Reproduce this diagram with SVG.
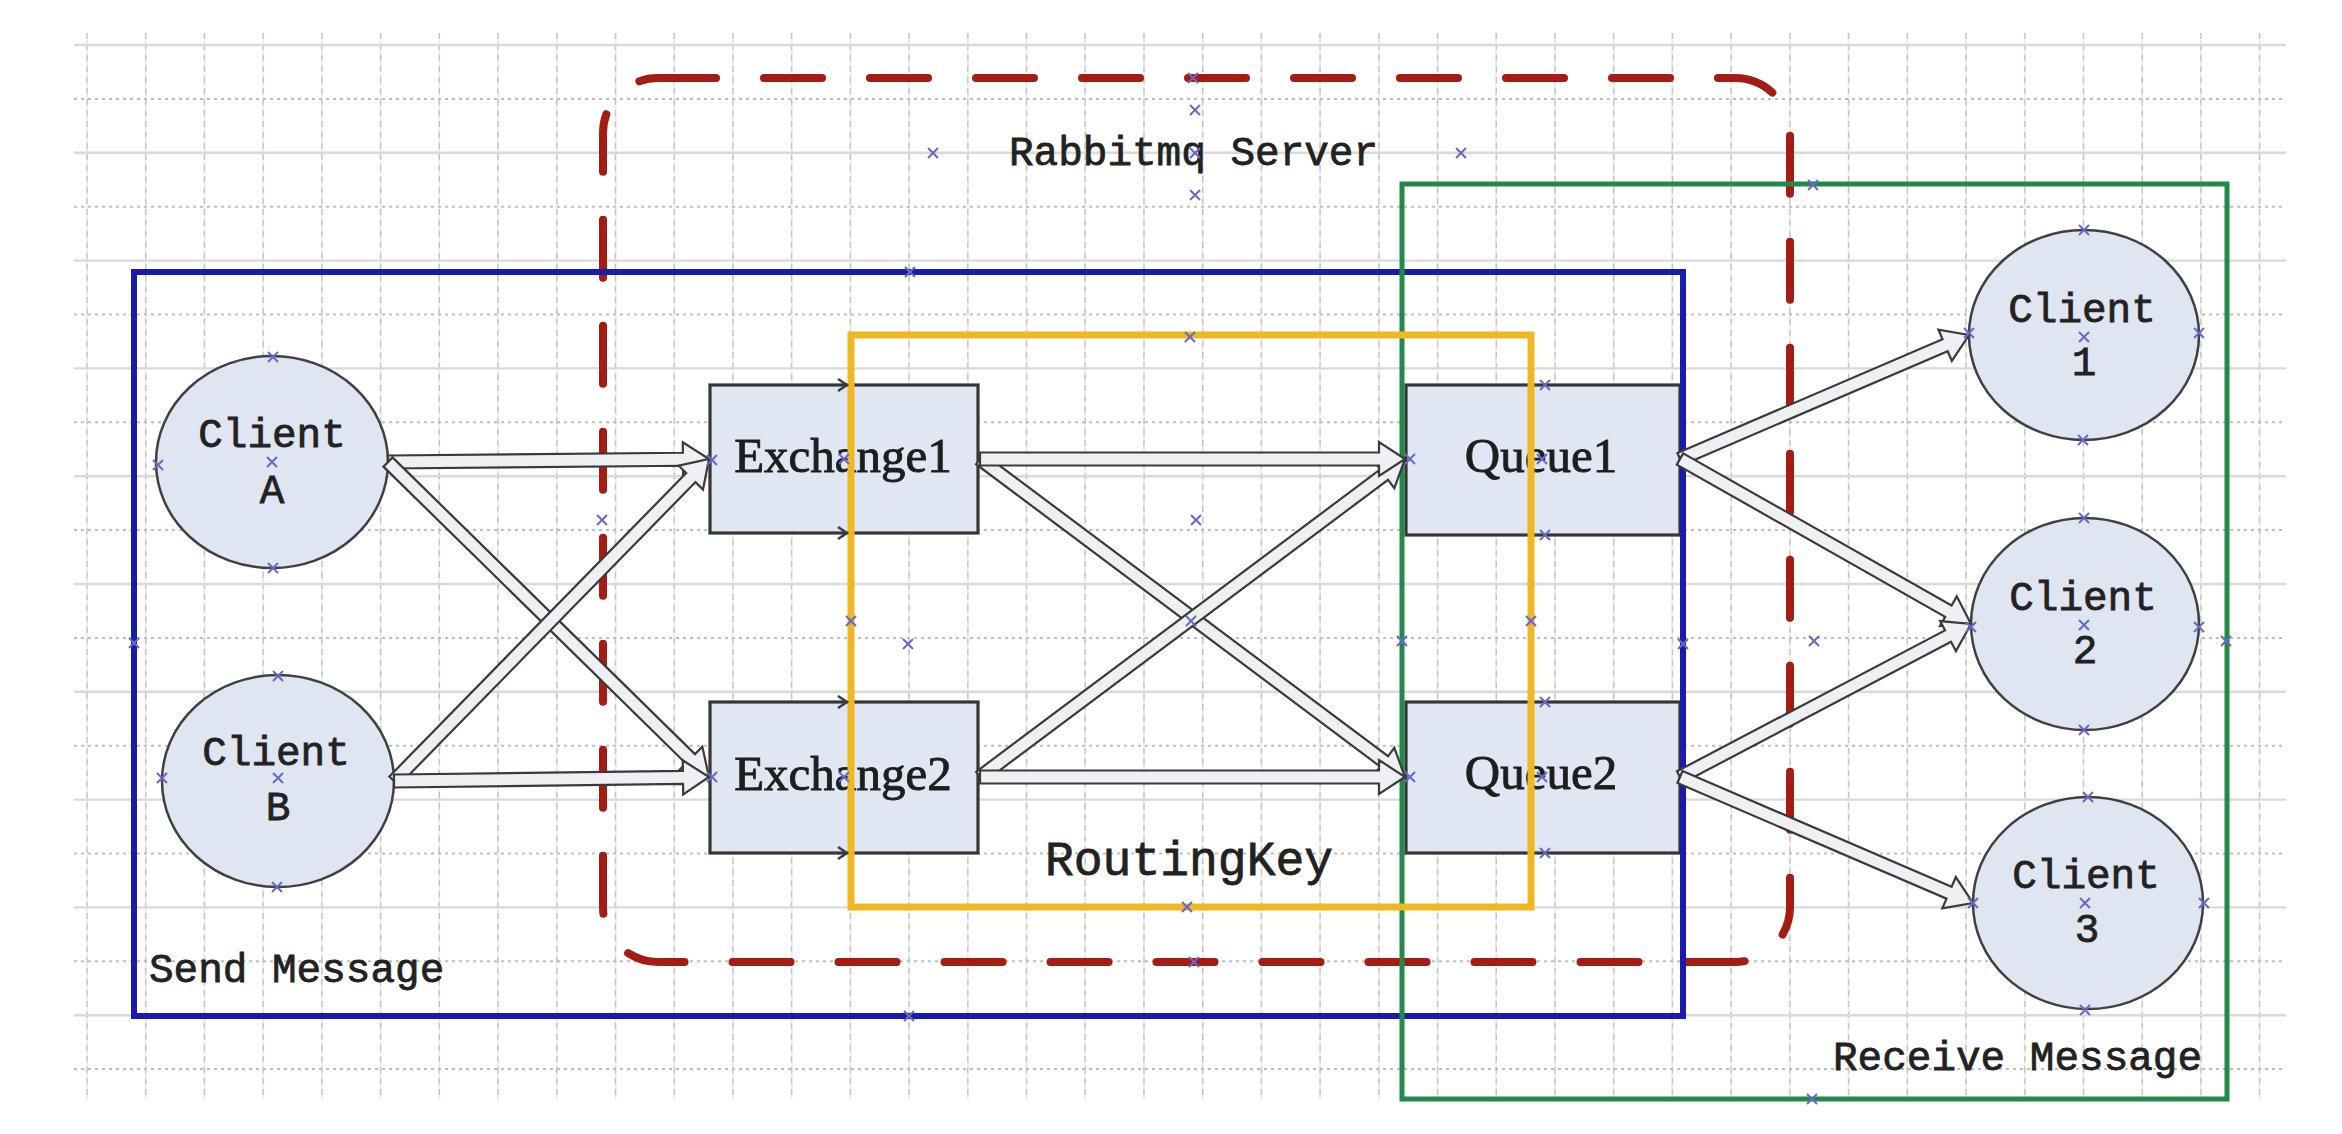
<svg xmlns="http://www.w3.org/2000/svg" width="2342" height="1134" viewBox="0 0 2342 1134">
<defs>
<style>
.gv{stroke:#c6c6c6;stroke-width:1.4;stroke-dasharray:6 5;fill:none}
.gvs{stroke:#ededed;stroke-width:2;fill:none}
.gh{stroke:#dadada;stroke-width:2.4;fill:none}
.ghd{stroke:#bfbfbf;stroke-width:2;stroke-dasharray:3 4;fill:none}
.box{fill:#e0e6f2;stroke:#363636;stroke-width:3.2}
.ell{fill:#dfe5f1;stroke:#404040;stroke-width:2.5}
.mono{font-family:"Liberation Mono","DejaVu Sans Mono",monospace;font-size:41px;fill:#222;stroke:#222;stroke-width:0.8}
.big{font-size:48px}
.mid{text-anchor:middle}
.serif{font-family:"Liberation Serif","DejaVu Serif",serif;font-size:49px;fill:#1e1e1e;stroke:#1e1e1e;stroke-width:0.9;text-anchor:middle}
.arrow{fill:#eef0f4;stroke:#3a3a3a;stroke-width:2.2;stroke-linejoin:miter}
.pt{stroke:#6868cc;stroke-width:2;fill:none}
.chev{stroke:#3a3a4a;stroke-width:2.5;fill:none}
.ctr{fill:none}
.red{stroke:#a51c12;stroke-width:8;stroke-dasharray:58 48;stroke-linecap:round}
.blue{stroke:#1a1aae;stroke-width:6}
.green{stroke:#218a48;stroke-width:5}
.yellow{stroke:#f0b820;stroke-width:7}
</style>
<path id="x" class="pt" d="M-5,-5L5,5M5,-5L-5,5"/>
<path id="chev" class="chev" d="M-9,-6L0,0L-9,6"/>
</defs>
<rect x="0" y="0" width="2342" height="1134" fill="#ffffff"/>
<g id="grid">
<path class="gvs" d="M87,33V1100M145.7,33V1100M204.4,33V1100M263.2,33V1100M321.9,33V1100M380.6,33V1100M439.3,33V1100M498,33V1100M556.8,33V1100M615.5,33V1100M674.2,33V1100M732.9,33V1100M791.6,33V1100M850.4,33V1100M909.1,33V1100M967.8,33V1100M1026.5,33V1100M1085.2,33V1100M1144,33V1100M1202.7,33V1100M1261.4,33V1100M1320.1,33V1100M1378.8,33V1100M1437.6,33V1100M1496.3,33V1100M1555,33V1100M1613.7,33V1100M1672.4,33V1100M1731.2,33V1100M1789.9,33V1100M1848.6,33V1100M1907.3,33V1100M1966,33V1100M2024.8,33V1100M2083.5,33V1100M2142.2,33V1100M2200.9,33V1100M2259.6,33V1100"/>
<path class="gv" d="M87,33V1100M145.7,33V1100M204.4,33V1100M263.2,33V1100M321.9,33V1100M380.6,33V1100M439.3,33V1100M498,33V1100M556.8,33V1100M615.5,33V1100M674.2,33V1100M732.9,33V1100M791.6,33V1100M850.4,33V1100M909.1,33V1100M967.8,33V1100M1026.5,33V1100M1085.2,33V1100M1144,33V1100M1202.7,33V1100M1261.4,33V1100M1320.1,33V1100M1378.8,33V1100M1437.6,33V1100M1496.3,33V1100M1555,33V1100M1613.7,33V1100M1672.4,33V1100M1731.2,33V1100M1789.9,33V1100M1848.6,33V1100M1907.3,33V1100M1966,33V1100M2024.8,33V1100M2083.5,33V1100M2142.2,33V1100M2200.9,33V1100M2259.6,33V1100"/>
<path class="gh" d="M74,45H2286M74,152.8H2286M74,260.6H2286M74,368.4H2286M74,476.2H2286M74,584H2286M74,691.8H2286M74,799.6H2286M74,907.4H2286M74,1015.2H2286"/>
<path class="ghd" d="M74,98.9H2286M74,206.7H2286M74,314.5H2286M74,422.3H2286M74,530.1H2286M74,637.9H2286M74,745.7H2286M74,853.5H2286M74,961.3H2286M74,1069.1H2286"/>
</g>
<g id="nodes">
<g id="client-a"><ellipse class="ell" cx="272" cy="462" rx="116" ry="106"/><text class="mono mid" x="272" y="447">Client</text><text class="mono mid" x="272" y="503">A</text></g>
<g id="client-b"><ellipse class="ell" cx="278" cy="781" rx="116" ry="106"/><text class="mono mid" x="276" y="765">Client</text><text class="mono mid" x="278" y="820">B</text></g>
<g id="exchange1"><rect class="box" x="710" y="385" width="268" height="148"/><text class="serif" x="843" y="472">Exchange1</text></g>
<g id="exchange2"><rect class="box" x="710" y="702" width="268" height="151"/><text class="serif" x="843" y="790">Exchange2</text></g>
<g id="queue1"><rect class="box" x="1406" y="385" width="274" height="150"/><text class="serif" x="1541" y="472">Queue1</text></g>
<g id="queue2"><rect class="box" x="1406" y="702" width="274" height="151"/><text class="serif" x="1541" y="789">Queue2</text></g>
<g id="client-1"><ellipse class="ell" cx="2084" cy="335" rx="115" ry="105"/><text class="mono mid" x="2082" y="322">Client</text><text class="mono mid" x="2084" y="375">1</text></g>
<g id="client-2"><ellipse class="ell" cx="2085" cy="624" rx="114" ry="106"/><text class="mono mid" x="2083" y="610">Client</text><text class="mono mid" x="2085" y="663">2</text></g>
<g id="client-3"><ellipse class="ell" cx="2088" cy="903" rx="115" ry="106"/><text class="mono mid" x="2086" y="888">Client</text><text class="mono mid" x="2087" y="942">3</text></g>
</g>
<g id="containers">
<g id="rabbitmq-server"><rect class="ctr red" x="603" y="78" width="1187" height="884" rx="55" ry="55"/><text class="mono" x="1009" y="165">Rabbitmq Server</text></g>
<g id="send-message"><rect class="ctr blue" x="134" y="272" width="1549" height="744"/><text class="mono" x="149" y="982">Send Message</text></g>
<g id="receive-message"><rect class="ctr green" x="1402" y="184" width="825" height="915"/><text class="mono" x="1833" y="1070">Receive Message</text></g>
<g id="routingkey"><rect class="ctr yellow" x="851" y="335" width="680" height="572"/><text class="mono big" x="1045" y="875">RoutingKey</text></g>
</g>
<g id="connectors">
<path class="arrow" transform="translate(388,462) rotate(-0.535)" d="M0,-6.5H295V-17L321,0L295,17V6.5H0Z"/>
<path class="arrow" transform="translate(388,462) rotate(44.459)" d="M0,-6.5H423.7V-17L449.7,0L423.7,17V6.5H0Z"/>
<path class="arrow" transform="translate(394,781) rotate(-45.63)" d="M0,-6.5H424.5V-17L450.5,0L424.5,17V6.5H0Z"/>
<path class="arrow" transform="translate(394,781) rotate(-0.727)" d="M0,-6.5H289V-17L315,0L289,17V6.5H0Z"/>
<path class="arrow" transform="translate(980,459) rotate(36.81)" d="M0,-6.5H504.8V-17L530.8,0L504.8,17V6.5H0Z"/>
<path class="arrow" transform="translate(980,777) rotate(-36.81)" d="M0,-6.5H504.8V-17L530.8,0L504.8,17V6.5H0Z"/>
<path class="arrow" transform="translate(980,459)" d="M0,-6.5H399V-17L425,0L399,17V6.5H0Z"/>
<path class="arrow" transform="translate(980,777)" d="M0,-6.5H399V-17L425,0L399,17V6.5H0Z"/>
<path class="arrow" transform="translate(1680,459) rotate(-23.22)" d="M0,-6.5H288.5V-17L314.5,0L288.5,17V6.5H0Z"/>
<path class="arrow" transform="translate(1680,459) rotate(29.55)" d="M0,-6.5H308.5V-17L334.5,0L308.5,17V6.5H0Z"/>
<path class="arrow" transform="translate(1680,777) rotate(-27.73)" d="M0,-6.5H302.8V-17L328.8,0L302.8,17V6.5H0Z"/>
<path class="arrow" transform="translate(1680,777) rotate(23.27)" d="M0,-6.5H292.9V-17L318.9,0L292.9,17V6.5H0Z"/>
</g>
<g id="markers">
<use href="#chev" x="847" y="385"/><use href="#chev" x="847" y="533"/><use href="#chev" x="847" y="702"/><use href="#chev" x="847" y="853"/>
<use href="#x" x="1193" y="78"/><use href="#x" x="1195" y="110"/><use href="#x" x="1195" y="153"/><use href="#x" x="1195" y="195"/><use href="#x" x="933" y="153"/><use href="#x" x="1461" y="153"/>
<use href="#x" x="1196" y="520"/><use href="#x" x="1194" y="962"/><use href="#x" x="602" y="520"/>
<use href="#x" x="910" y="272"/><use href="#x" x="134" y="643"/><use href="#x" x="908" y="644"/><use href="#x" x="1683" y="644"/><use href="#x" x="909" y="1016"/>
<use href="#x" x="1190" y="337"/><use href="#x" x="851" y="621"/><use href="#x" x="1191" y="621"/><use href="#x" x="1531" y="621"/><use href="#x" x="1187" y="907"/>
<use href="#x" x="1813" y="185"/><use href="#x" x="1402" y="641"/><use href="#x" x="1814" y="641"/><use href="#x" x="2226" y="641"/><use href="#x" x="1812" y="1099"/>
<use href="#x" x="273" y="357"/><use href="#x" x="272" y="462"/><use href="#x" x="158" y="465"/><use href="#x" x="273" y="568"/>
<use href="#x" x="278" y="676"/><use href="#x" x="162" y="778"/><use href="#x" x="278" y="778"/><use href="#x" x="277" y="887"/>
<use href="#x" x="2084" y="230"/><use href="#x" x="2084" y="337"/><use href="#x" x="1969" y="333"/><use href="#x" x="2199" y="333"/><use href="#x" x="2083" y="440"/>
<use href="#x" x="2084" y="518"/><use href="#x" x="2084" y="625"/><use href="#x" x="1971" y="627"/><use href="#x" x="2199" y="627"/><use href="#x" x="2084" y="730"/>
<use href="#x" x="2088" y="797"/><use href="#x" x="2085" y="903"/><use href="#x" x="1973" y="903"/><use href="#x" x="2204" y="903"/><use href="#x" x="2085" y="1010"/>
<use href="#x" x="712" y="460"/><use href="#x" x="844" y="459"/><use href="#x" x="712" y="777"/><use href="#x" x="844" y="777"/>
<use href="#x" x="1545" y="385"/><use href="#x" x="1542" y="459"/><use href="#x" x="1545" y="535"/><use href="#x" x="1545" y="702"/><use href="#x" x="1542" y="777"/><use href="#x" x="1545" y="853"/><use href="#x" x="1410" y="777"/><use href="#x" x="1410" y="459"/>
</g>
</svg>
